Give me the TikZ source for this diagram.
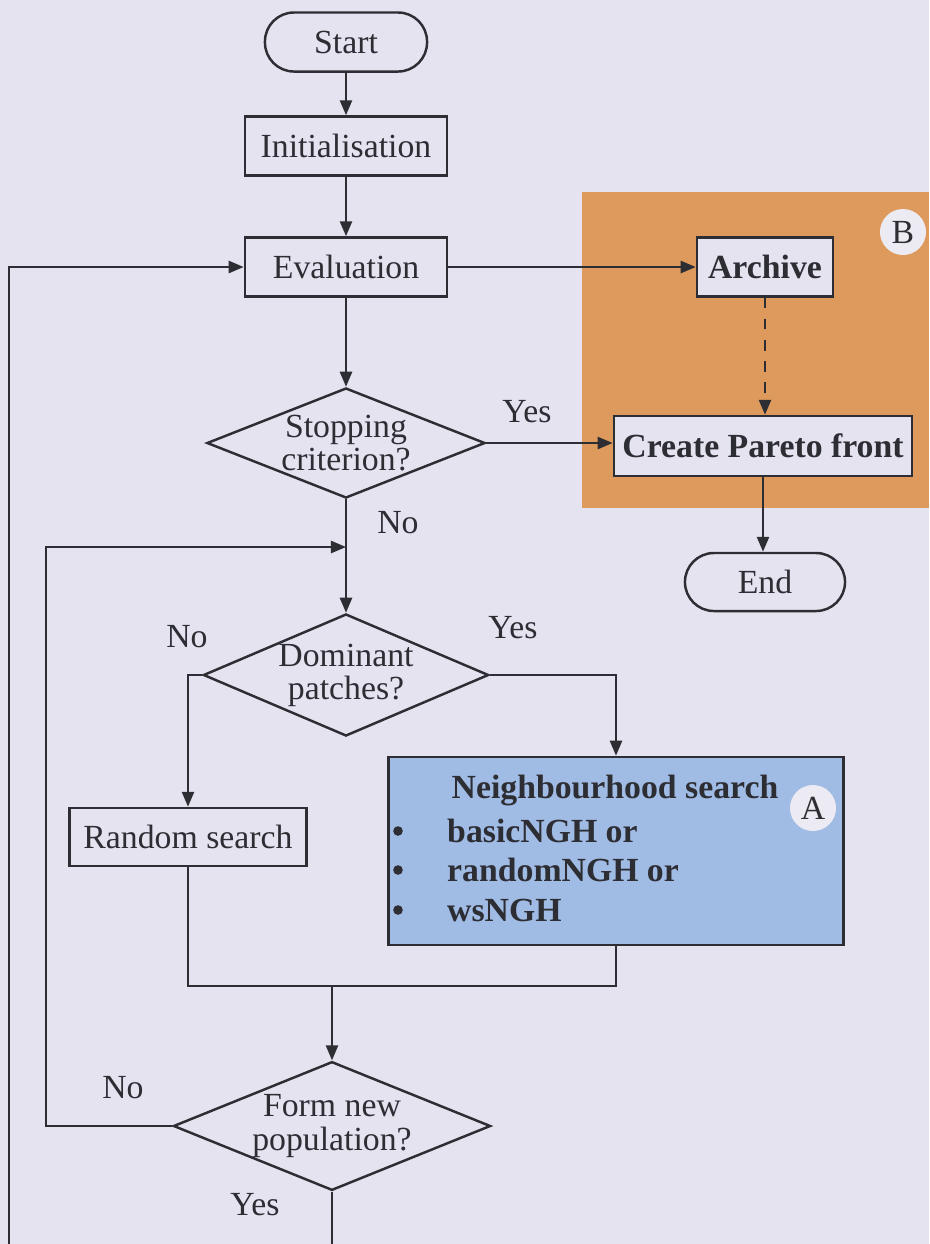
\documentclass[tikz,border=0pt]{standalone}
\usepackage{fontspec}
\setmainfont{Liberation Serif}
\usetikzlibrary{shapes.geometric,arrows.meta,positioning}

\definecolor{pagebg}{RGB}{228,227,239}
\definecolor{archivebg}{RGB}{221,154,92}
\definecolor{searchbg}{RGB}{160,187,228}
\definecolor{tagbg}{RGB}{236,235,243}
\definecolor{ink}{RGB}{45,45,52}

\begin{document}
\begin{tikzpicture}[x=0.01cm, y=-0.01cm, >={Triangle[length=0.15cm,width=0.12cm]},
    font=\fontsize{9.6}{9.4}\selectfont, line width=0.7pt, draw=ink, text=ink,
    box/.style={draw, rectangle, fill=pagebg, minimum height=0.59cm, inner sep=1pt},
    term/.style={draw, rectangle, rounded corners=0.29cm, fill=pagebg,
                 minimum height=0.59cm},
    decision/.style={draw, diamond, fill=pagebg, aspect=2.4, inner sep=0pt,
                     align=center},
    tag/.style={circle, fill=tagbg, minimum size=0.46cm, inner sep=0pt},
    lbl/.style={inner sep=0pt}]

% page and shaded regions
\useasboundingbox (0,0) rectangle (929,1244);
\fill[pagebg] (0,0) rectangle (929,1244);
\fill[archivebg] (582,192) rectangle (929,508);

\node[term, minimum width=1.62cm] (start) at (346,42) {Start};
\node[box, minimum width=2.02cm]  (init)  at (346,146) {Initialisation};
\node[box, minimum width=2.02cm]  (eval)  at (346,267) {Evaluation};

\node[box, minimum width=1.36cm, font=\fontsize{9.6}{9.4}\selectfont\bfseries]
    (archive) at (765,267) {Archive};
\node[box, minimum width=2.98cm, minimum height=0.60cm,
      font=\fontsize{9.6}{9.4}\selectfont\bfseries]
    (pareto) at (763,446) {Create Pareto front};
\node[term, minimum width=1.60cm, minimum height=0.58cm] (end) at (765,582) {End};
\node[tag] (tagB) at (903,232) {B};

\node[decision, minimum width=2.78cm, minimum height=1.10cm]
    (stop) at (346,443) {Stopping\\criterion?};
\node[decision, minimum width=2.75cm, minimum height=1.22cm]
    (dom) at (346,675) {Dominant\\patches?};

\node[box, minimum width=2.37cm, minimum height=0.58cm] (rand) at (188,837) {Random search};

% neighbourhood search block
\node[draw, rectangle, fill=searchbg, minimum width=4.55cm, minimum height=1.88cm]
    (nbr) at (616,851) {};
\node[lbl, font=\fontsize{9.6}{9.4}\selectfont\bfseries] (nbrhead) at (615,790)
    {Neighbourhood search};
\node[lbl, anchor=west, font=\fontsize{9.6}{9.4}\selectfont\bfseries] (ngh1) at (446,831) {basicNGH or};
\node[lbl, anchor=west, font=\fontsize{9.6}{9.4}\selectfont\bfseries] (ngh2) at (446,870) {randomNGH or};
\node[lbl, anchor=west, font=\fontsize{9.6}{9.4}\selectfont\bfseries] (ngh3) at (446,910) {wsNGH};
\foreach \y in {831, 870, 910}
    \fill[ink] (398,\y) circle (0.048cm);
\node[tag] (tagA) at (813,808) {A};

\node[decision, minimum width=3.17cm, minimum height=1.28cm]
    (form) at (332,1126) {Form new\\population?};

% free ends of the connectors
\coordinate (merge)  at (346,547);
\coordinate (loopin) at (46,547);
\coordinate (join)   at (332,986);
\coordinate (bottom) at (332,1244);
\coordinate (leftin) at (9,1244);

\draw[->] (start) -- (init);
\draw[->] (init) -- (eval);
\draw[->] (eval) -- (archive);
\draw[->, dashed] (archive.south) -- (archive.south |- pareto.north);
\draw[->] (pareto.south) -- (pareto.south |- end.north);
\draw[->] (eval) -- (stop);
\draw[->] (stop.east) -- (stop.east -| pareto.west);
\draw[->] (stop) -- (dom);
\draw[->] (form.west) -| (loopin) -- (merge);
\draw[->] (dom.west) -| (rand.north);
\draw[->] (dom.east) -| (nbr.north);
\draw (rand.south) |- (join);
\draw (nbr.south) |- (join);
\draw[->] (join) -- (form.north);
\draw (form.south) -- (bottom);
\draw[->] (leftin) |- (eval.west);

% branch labels
\node[lbl] (yes1) at (527,412) {Yes};
\node[lbl] (no1)  at (398,523) {No};
\node[lbl] (no2)  at (187,637) {No};
\node[lbl] (yes2) at (513,628) {Yes};
\node[lbl] (no3)  at (123,1088) {No};
\node[lbl] (yes3) at (255,1205) {Yes};

\end{tikzpicture}
\end{document}
